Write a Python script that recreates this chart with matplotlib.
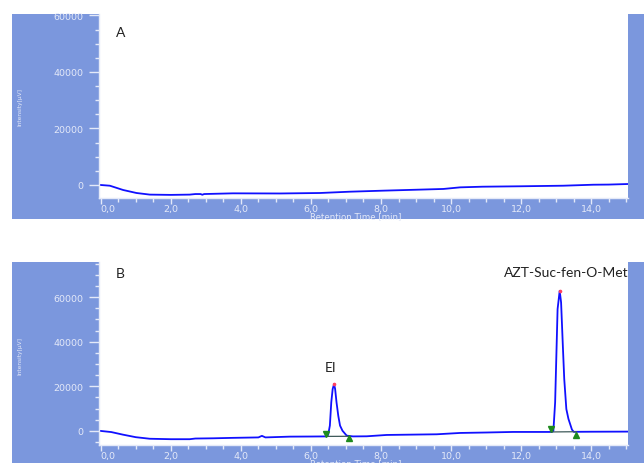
import matplotlib
matplotlib.use("Agg")
import matplotlib.pyplot as plt
from matplotlib.patches import Rectangle
from matplotlib.ticker import MultipleLocator

# ---- chromatogram data (retention time in min, intensity in µV) ----
time_a = [0.0, 0.26, 0.64, 1.02, 1.4, 2.0, 2.54, 2.7, 2.85, 2.9, 2.95, 3.77,
          5.11, 6.26, 7.11, 8.07, 9.78, 10.26, 10.9, 12.0, 13.2, 14.06, 14.5, 15.05]
intensity_a = [0, -250, -1770, -2830, -3400, -3500, -3400, -3200, -3200, -3450, -3200, -2950,
               -3000, -2830, -2370, -2000, -1400, -830, -600, -450, -250, 100, 150, 350]

time_b = [0.0, 0.3, 0.63, 1.0, 1.4, 2.0, 2.54, 2.7, 3.2, 3.77, 4.5, 4.6, 4.7, 5.1, 5.4,
          6.0, 6.43, 6.49, 6.54, 6.58, 6.62, 6.66, 6.69, 6.73, 6.78, 6.83, 6.90, 7.02,
          7.2, 7.59, 8.16, 9.59, 10.26, 11.0, 11.77, 12.5, 12.88, 12.92, 12.97, 13.0,
          13.04, 13.10, 13.14, 13.19, 13.23, 13.29, 13.35, 13.45, 13.50, 14.0, 15.05]
intensity_b = [0, -500, -1650, -2800, -3500, -3700, -3700, -3400, -3300, -3100, -2900, -2200,
               -2900, -2700, -2550, -2500, -2450, -1800, 2400, 12800, 18800, 21000, 18800,
               12800, 6800, 2400, 100, -2100, -2450, -2400, -1800, -1500, -900, -700, -450,
               -450, -450, 0, 12800, 30700, 54600, 62800, 57600, 38200, 23300, 9800, 5400,
               600, -400, -350, -300]

# integration of each peak: start / end markers, baseline drawn under the peak, apex
peak_names = ["EI", "AZT-Suc-fen-O-Met"]
peak_start_t = [6.42, 12.86]
peak_start_v = [-1300, 900]
peak_end_t = [7.09, 13.57]
peak_end_v = [-3300, -1800]
peak_base_start_v = [-2450, -450]
peak_base_end_v = [-2400, -350]
peak_apex_t = [6.66, 13.10]
peak_apex_v = [21000, 62800]

x_ticks = [0, 2, 4, 6, 8, 10, 12, 14]
x_tick_labels = ["0,0", "2,0", "4,0", "6,0", "8,0", "10,0", "12,0", "14,0"]
y_ticks = [0, 20000, 40000, 60000]
y_tick_labels = ["0", "20000", "40000", "60000"]

W, H = 644, 464
BAND = "#7b97dd"
LIGHT = "#e4e9f8"
TRACE = "#1010ff"

fig = plt.figure(figsize=(W / 100, H / 100), dpi=100)
fig.patch.set_facecolor("white")


def fx(px):
    return px / W


def fy(py):
    return 1 - py / H


# blue frames behind the two plots
for top, bottom in [(15, 220), (263, 464)]:
    fig.patches.append(Rectangle((fx(12), fy(bottom)), fx(644) - fx(12), fy(top) - fy(bottom),
                                 transform=fig.transFigure, facecolor=BAND, edgecolor="none",
                                 zorder=-1))

ax_a = fig.add_axes([fx(99), fy(199), fx(628) - fx(99), fy(15) - fy(199)])
ax_b = fig.add_axes([fx(99), fy(446), fx(628) - fx(99), fy(263) - fy(446)])


def style(ax, ylim):
    ax.set_facecolor("white")
    ax.set_xlim(-0.05, 15.05)
    ax.set_ylim(*ylim)
    for s in ("top", "right"):
        ax.spines[s].set_visible(False)
    for s in ("left", "bottom"):
        ax.spines[s].set_color(LIGHT)
        ax.spines[s].set_linewidth(1.0)
    ax.set_xticks(x_ticks, x_tick_labels)
    ax.set_yticks(y_ticks, y_tick_labels)
    ax.xaxis.set_minor_locator(MultipleLocator(0.5))
    ax.yaxis.set_minor_locator(MultipleLocator(5000))
    ax.tick_params(which="major", direction="out", length=4, width=1, color=LIGHT,
                   labelcolor=LIGHT, labelsize=6.8, pad=0.3)
    ax.tick_params(which="minor", direction="out", length=3, width=1, color=LIGHT)
    ax.tick_params(axis="y", which="major", length=7, pad=4)
    ax.xaxis.get_major_ticks()[0].label1.set_horizontalalignment("left")


style(ax_a, (-4600, 60500))
style(ax_b, (-6300, 75700))

# axis titles in the blue frames
for y_title, y_xlabel in [(107, 216.5), (356, 463.5)]:
    fig.text(fx(20), fy(y_title), "Intensity[µV]", rotation=90, fontsize=4.2, color=LIGHT,
             ha="center", va="center")
    fig.text(fx(356), fy(y_xlabel), "Retention Time [min]", fontsize=6.2, color=LIGHT,
             ha="center", va="center")

ax_a.plot(time_a, intensity_a, color=TRACE, lw=1.3)
ax_b.plot(time_b, intensity_b, color=TRACE, lw=1.3)

for i in range(len(peak_names)):
    ax_b.plot([peak_start_t[i], peak_end_t[i]], [peak_base_start_v[i], peak_base_end_v[i]],
              color="#3f5a5a", lw=0.9, zorder=3)
    ax_b.plot(peak_start_t[i], peak_start_v[i], marker="v", color="#1e8a1e", ms=4.5,
              zorder=4, linestyle="none")
    ax_b.plot(peak_end_t[i], peak_end_v[i], marker="^", color="#1e8a1e", ms=4.5,
              zorder=4, linestyle="none")
    ax_b.plot(peak_apex_t[i], peak_apex_v[i], marker="o", color="#ff4060", ms=1.6,
              zorder=4, linestyle="none")

label_font = dict(family=["Lato", "DejaVu Sans"], fontsize=10, color="#222222")
ax_a.text(0.04, 0.9, "A", transform=ax_a.transAxes, ha="center", va="center", **label_font)
ax_b.text(0.04, 0.94, "B", transform=ax_b.transAxes, ha="center", va="center", **label_font)
ax_b.text(6.57, 28650, peak_names[0], ha="center", va="center", **label_font)
ax_b.text(13.29, 71200, peak_names[1], ha="center", va="center", **label_font)

fig.savefig("out.png", dpi=100)
